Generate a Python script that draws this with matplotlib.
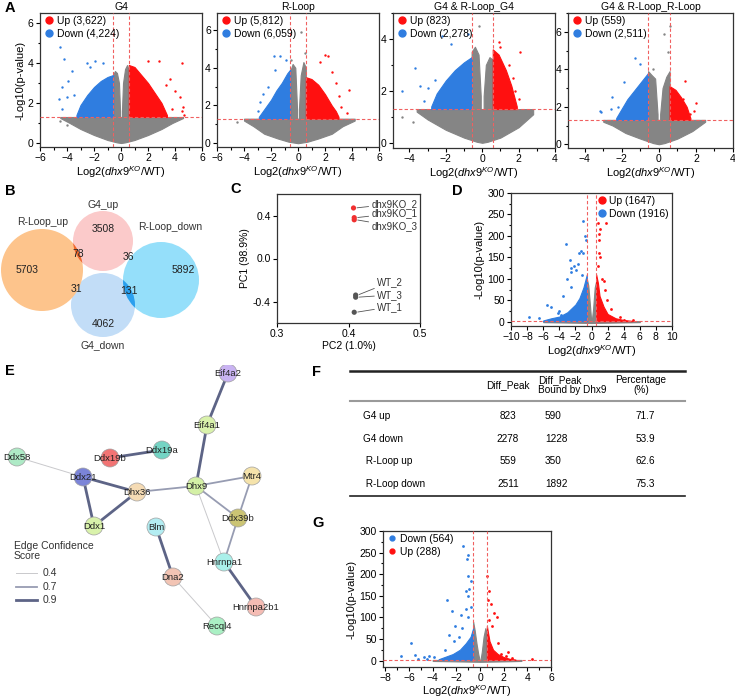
import matplotlib.pyplot as plt
from matplotlib.lines import Line2D
from matplotlib.patches import Circle
from matplotlib.ticker import AutoMinorLocator

plt.rcParams['font.family'] = ['Liberation Sans', 'DejaVu Sans']
plt.rcParams['mathtext.fontset'] = 'custom'
plt.rcParams['mathtext.rm'] = 'Liberation Sans'
plt.rcParams['mathtext.it'] = 'Liberation Sans:italic'
plt.rcParams['font.size'] = 7

RED = '#ff1010'
BLUE = '#2f7de0'
GRAY = '#858585'
LINE_RED = '#f06060'
XLAB = r'Log2($\mathit{dhx9}^{KO}$/WT)'

# ---- volcano data (envelopes of the dense clouds + loose points)
g4 = dict(
    title='G4', up='Up (3,622)', down='Down (4,224)',
    gray_x=[-4.5, -3.8, -3, -2, -1, -0.3, 0, 0.3, 1, 2, 3, 3.8, 4.6],
    gray_lo=[1.25, 1.0, 0.7, 0.4, 0.15, 0.03, 0, 0.03, 0.15, 0.4, 0.7, 1.0, 1.25],
    coll_x=[-0.58, -0.45, -0.3, -0.15, -0.07], coll_hi=[3.4, 3.6, 3.5, 3.0, 1.6],
    colr_x=[0.07, 0.15, 0.3, 0.45, 0.58], colr_hi=[1.6, 3.0, 3.7, 3.9, 3.6],
    dn_x=[-0.58, -1.0, -1.5, -2.0, -2.5, -3.0, -3.3], dn_hi=[3.4, 3.3, 3.1, 2.8, 2.4, 1.9, 1.4],
    up_x=[0.58, 1.0, 1.5, 2.0, 2.5, 3.0, 3.4], up_hi=[3.9, 3.8, 3.4, 3.0, 2.5, 2.0, 1.4],
    dn_px=[-4.5, -4.2, -3.6, -3.9, -4.6, -4.4, -4.4, -3.5, -4.0, -2.5, -2.3, -1.9, -1.3],
    dn_py=[4.8, 4.2, 3.6, 3.1, 2.2, 1.7, 2.8, 2.4, 2.3, 4.0, 3.8, 4.1, 4.0],
    up_px=[4.5, 2.8, 2.0, 3.6, 4.0, 4.4, 4.6, 4.5, 3.8, 4.7, 3.3],
    up_py=[4.0, 4.1, 4.1, 3.2, 2.6, 2.3, 1.8, 1.6, 1.7, 1.4, 2.9],
    gr_px=[-4.5, -4.0], gr_py=[1.1, 0.9],
)
rloop = dict(
    title='R-Loop', up='Up (5,812)', down='Down (6,059)',
    gray_x=[-4, -3.3, -2.5, -1.5, -0.7, 0, 0.7, 1.5, 2.5, 3.3, 4.2],
    gray_lo=[1.2, 0.9, 0.5, 0.25, 0.08, 0, 0.08, 0.25, 0.5, 0.9, 1.2],
    coll_x=[-0.58, -0.4, -0.2, -0.07], coll_hi=[3.8, 4.2, 4.0, 1.8],
    colr_x=[0.07, 0.2, 0.4, 0.58], colr_hi=[1.8, 3.6, 4.3, 4.0],
    dn_x=[-0.58, -0.8, -1.2, -1.6, -2.0, -2.5, -2.9], dn_hi=[3.9, 3.7, 3.2, 2.8, 2.3, 1.8, 1.4],
    up_x=[0.58, 1.0, 1.5, 2.0, 2.5, 2.8, 3.0], up_hi=[3.5, 3.4, 3.1, 2.6, 2.0, 1.7, 1.4],
    dn_px=[-1.8, -1.3, -0.9, -2.8, -3.0, -2.6, -2.2, -1.7],
    dn_py=[4.6, 4.6, 4.4, 2.2, 1.7, 2.6, 3.0, 3.9],
    up_px=[2.0, 2.2, 1.6, 2.5, 2.8, 3.8, 3.0, 3.6, 3.2],
    up_py=[4.7, 4.6, 4.3, 3.8, 3.2, 2.8, 2.5, 1.6, 1.9],
    gr_px=[0.2, 0.55, -0.5, -4.5], gr_py=[5.9, 4.8, 4.4, 1.1],
)
both_g4 = dict(
    title='G4 & R-Loop_G4', up='Up (823)', down='Down (2,278)',
    gray_x=[-3.6, -3, -2, -1, -0.3, 0, 0.3, 1, 2, 2.8],
    gray_lo=[1.2, 0.9, 0.5, 0.2, 0.04, 0, 0.04, 0.2, 0.6, 1.1],
    coll_x=[-0.58, -0.4, -0.2, -0.08], coll_hi=[3.5, 3.7, 3.4, 1.8],
    colr_x=[0.08, 0.2, 0.4, 0.58], colr_hi=[1.8, 3.0, 3.3, 3.2],
    dn_x=[-0.58, -1.0, -1.5, -2.0, -2.5, -2.8], dn_hi=[3.3, 3.1, 2.8, 2.4, 1.9, 1.4],
    up_x=[0.58, 0.9, 1.3, 1.6, 1.9], up_hi=[3.6, 3.4, 2.8, 2.2, 1.4],
    dn_px=[-4.4, -3.7, -3.4, -3.0, -2.2, -0.8, -1.7, -3.2, -2.6],
    dn_py=[2.0, 2.9, 2.2, 2.1, 4.1, 4.2, 3.8, 1.6, 2.4],
    up_px=[0.9, 1.0, 2.1, 1.7, 1.5, 2.0, 1.8],
    up_py=[3.9, 3.7, 3.5, 2.5, 3.0, 1.7, 2.0],
    gr_px=[-0.2, -4.4, -3.8], gr_py=[4.5, 1.0, 0.8],
)
both_rl = dict(
    title='G4 & R-Loop_R-Loop', up='Up (559)', down='Down (2,511)',
    gray_x=[-3.0, -2.5, -1.8, -1, -0.3, 0, 0.3, 1, 1.8, 2.5],
    gray_lo=[1.2, 1.0, 0.6, 0.3, 0.06, 0, 0.06, 0.3, 0.7, 1.2],
    coll_x=[-0.58, -0.4, -0.2, -0.07], coll_hi=[3.9, 3.7, 3.5, 1.6],
    colr_x=[0.07, 0.2, 0.4, 0.58], colr_hi=[1.6, 3.0, 3.6, 3.9],
    dn_x=[-0.58, -0.9, -1.3, -1.7, -2.0, -2.3], dn_hi=[3.8, 3.4, 2.9, 2.4, 1.9, 1.4],
    up_x=[0.58, 0.9, 1.2, 1.5, 1.7], up_hi=[3.1, 2.9, 2.5, 2.0, 1.4],
    dn_px=[-1.3, -1.0, -2.5, -2.2, -3.2, -3.1, -2.6, -1.9],
    dn_py=[4.6, 4.3, 2.5, 2.0, 1.8, 1.7, 1.9, 3.3],
    up_px=[1.4, 2.0, 1.9, 1.7, 1.3], up_py=[3.4, 2.2, 1.8, 1.6, 2.4],
    gr_px=[0.3, 0.6, 0.5, -0.3], gr_py=[5.9, 6.3, 4.9, 4.0],
)
rna_d = dict(
    up='Up (1647)', down='Down (1916)',
    gray_x=[-6, -3, 0, 3, 6], gray_lo=[-1, -2, -3, -2, -1],
    coll_x=[-0.58, -0.4, -0.2, -0.05], coll_hi=[100, 85, 40, 5],
    colr_x=[0.05, 0.2, 0.4, 0.58], colr_hi=[5, 30, 80, 95],
    dn_x=[-0.58, -1.0, -1.5, -2, -3, -4, -5, -6], dn_hi=[110, 80, 55, 40, 22, 12, 8, 3],
    up_x=[0.58, 0.8, 1, 1.5, 2, 3, 4, 5], up_hi=[110, 90, 60, 35, 18, 8, 4, 2],
    dn_px=[-1, -0.8, -0.7, -3.2, -1.6, -1.3, -1.1, -2.7, -2.2, -1.7, -2.5, -3, -2.6, -1.9,
           -7.8, -6.5, -5.5, -5, -4, -3.5, -2.5, -1.2, -4.2, -3.8],
    dn_py=[235, 200, 190, 180, 160, 165, 160, 145, 130, 135, 125, 100, 115, 120,
           10, 8, 40, 35, 25, 60, 80, 110, 20, 15],
    up_px=[0.8, 1.8, 1.1, 0.9, 0.9, 0.95, 1.1, 0.8, 1.5, 1.7, 1.9, 2.4, 4, 5.2, 3.5, 1.3],
    up_py=[230, 230, 215, 205, 190, 160, 150, 130, 95, 75, 50, 30, 5, 3, 10, 100],
    gr_px=[], gr_py=[],
)
rna_g = dict(
    up='Up (288)', down='Down (564)',
    gray_x=[-4, -2, 0, 2, 3.5], gray_lo=[-1, -2, -3, -2, -1],
    coll_x=[-0.58, -0.45, -0.3, -0.15, -0.05], coll_hi=[90, 70, 40, 15, 3],
    colr_x=[0.05, 0.15, 0.3, 0.45, 0.58], colr_hi=[3, 20, 55, 75, 60],
    dn_x=[-0.58, -0.8, -1.2, -1.7, -2.3, -3, -3.5], dn_hi=[75, 55, 40, 25, 15, 8, 3],
    up_x=[0.58, 0.8, 1.1, 1.5, 2, 2.5, 3], up_hi=[80, 45, 25, 15, 8, 4, 2],
    dn_px=[-1.4, -1.0, -1.1, -1.0, -0.8, -1.2, -0.9, -2.8, -1.0, -0.8, -1.2, -2.4, -1.6, -1.0,
           -2.1, -2.6, -1.8, -5.8, -6.7, -5.5, -4.7, -4.3, -3.9, -3.0, -2.2, -1.5, -5.2, -4.5],
    dn_py=[265, 245, 235, 195, 185, 160, 165, 140, 150, 125, 120, 115, 105, 100,
           80, 60, 55, 40, 10, 12, 8, 10, 8, 25, 45, 75, 4, 3],
    up_px=[0.6, 0.8, 1.2, 1.4, 0.9, 0.7, 1.0, 1.5, 2.4, 1.8, 2.7, 4.4, 2.2, 0.8],
    up_py=[195, 160, 110, 100, 130, 140, 80, 40, 20, 15, 5, 3, 10, 95],
    gr_px=[], gr_py=[],
)

# ---- other panels
venn_names = ['R-Loop_up', 'G4_up', 'R-Loop_down', 'G4_down']
venn_only = [5703, 3508, 5892, 4062]
venn_pairs = [78, 36, 31, 131]  # Rup&G4up, G4up&Rdown, Rup&G4down, G4down&Rdown

pca_names = ['dhx9KO_2', 'dhx9KO_1', 'dhx9KO_3', 'WT_2', 'WT_3', 'WT_1']
pca_pc2 = [0.407, 0.408, 0.408, 0.410, 0.410, 0.408]
pca_pc1 = [0.47, 0.38, 0.36, -0.34, -0.36, -0.50]

net_nodes = ['Eif4a2', 'Eif4a1', 'Ddx58', 'Ddx19b', 'Ddx19a', 'Ddx21', 'Dhx36', 'Dhx9',
             'Mtr4', 'Ddx39b', 'Ddx1', 'Blm', 'Hnrnpa1', 'Dna2', 'Hnrnpa2b1', 'Recql4']
net_edges = [('Eif4a2', 'Eif4a1', 0.9), ('Eif4a1', 'Dhx9', 0.9), ('Ddx58', 'Ddx21', 0.4),
             ('Ddx19b', 'Ddx19a', 0.9), ('Ddx21', 'Dhx36', 0.9), ('Ddx21', 'Ddx1', 0.9),
             ('Dhx36', 'Ddx1', 0.9), ('Dhx36', 'Dhx9', 0.7), ('Dhx9', 'Mtr4', 0.7),
             ('Dhx9', 'Ddx39b', 0.7), ('Mtr4', 'Ddx39b', 0.7), ('Dhx9', 'Hnrnpa1', 0.4),
             ('Ddx39b', 'Hnrnpa1', 0.7), ('Hnrnpa1', 'Hnrnpa2b1', 0.9), ('Blm', 'Dna2', 0.9),
             ('Dna2', 'Recql4', 0.4)]

tab_rows = ['G4 up', 'G4 down', ' R-Loop up', ' R-Loop down']
tab_diff = [823, 2278, 559, 2511]
tab_bound = [590, 1228, 350, 1892]
tab_pct = [71.7, 53.9, 62.6, 75.3]

W, H = 735, 700
fig = plt.figure(figsize=(7.35, 7.0), dpi=100)


def px_axes(l, t, r, b):
    return fig.add_axes([l / W, 1 - b / H, (r - l) / W, (b - t) / H])


def style(ax, xt, yt, xlim, ylim):
    ax.set_xlim(*xlim)
    ax.set_ylim(*ylim)
    ax.set_xticks(xt)
    ax.set_yticks(yt)
    ax.xaxis.set_minor_locator(AutoMinorLocator(2))
    ax.yaxis.set_minor_locator(AutoMinorLocator(2))
    ax.tick_params(which='both', direction='out', width=0.8, labelsize=7.5, pad=1.5)
    ax.tick_params(which='major', length=3)
    ax.tick_params(which='minor', length=1.8)
    for s in ax.spines.values():
        s.set_linewidth(0.9)
        s.set_color('#333333')


def volcano(ax, d, s=3):
    thr = 1.3
    kw = dict(lw=0.8, zorder=1)
    ax.fill_between(d['gray_x'], d['gray_lo'], thr, color=GRAY, **kw)
    ax.fill_between(d['coll_x'], thr, d['coll_hi'], color=GRAY, **kw)
    ax.fill_between(d['colr_x'], thr, d['colr_hi'], color=GRAY, **kw)
    ax.fill_between(d['dn_x'], thr, d['dn_hi'], color=BLUE, **kw)
    ax.fill_between(d['up_x'], thr, d['up_hi'], color=RED, **kw)
    ax.scatter(d['gr_px'], d['gr_py'], s=s, color=GRAY, lw=0, zorder=2)
    ax.scatter(d['dn_px'], d['dn_py'], s=s, color=BLUE, lw=0, zorder=2)
    ax.scatter(d['up_px'], d['up_py'], s=s, color=RED, lw=0, zorder=2)
    for v in (-0.58, 0.58):
        ax.axvline(v, color=LINE_RED, lw=0.8, ls=(0, (3, 2)), zorder=3)
    ax.axhline(thr, color=LINE_RED, lw=0.8, ls=(0, (3, 2)), zorder=3)


def leg(ax, labels, colors, loc, ms=5):
    hs = [Line2D([], [], marker='o', ls='', color=c, ms=ms) for c in colors]
    ax.legend(hs, labels, loc=loc, frameon=False, fontsize=7.5, handletextpad=0.1,
              borderaxespad=0.2, labelspacing=0.25, borderpad=0.1, handlelength=1.2)


# ---- panel A
a_boxes = [(40, 13, 202, 147), (217, 13, 379, 147), (393, 13, 555, 148), (568, 13, 733, 148)]
a_data = [g4, rloop, both_g4, both_rl]
a_xt = [range(-6, 7, 2), range(-6, 7, 2), range(-4, 5, 2), range(-4, 5, 2)]
a_yt = [[0, 2, 4, 6], [0, 2, 4, 6], [0, 2, 4], [0, 2, 4, 6]]
a_xl = [(-6, 6), (-6, 6), (-4.9, 4), (-4.9, 4)]
a_yl = [(-0.2, 6.5), (-0.2, 6.9), (-0.2, 5.0), (-0.2, 7.0)]
for i, d in enumerate(a_data):
    ax = px_axes(*a_boxes[i])
    volcano(ax, d)
    style(ax, list(a_xt[i]), a_yt[i], a_xl[i], a_yl[i])
    ax.set_title(d['title'], fontsize=7.5, pad=2)
    ax.set_xlabel(XLAB, fontsize=8, labelpad=1)
    leg(ax, [d['up'], d['down']], [RED, BLUE], 'upper left')
    if i == 0:
        ax.set_ylabel('-Log10(p-value)', fontsize=8, labelpad=2)

# ---- panel B (venn, axes in pixel units)
axb = px_axes(0, 175, 245, 362)
axb.set_xlim(0, 245)
axb.set_ylim(362, 175)
axb.axis('off')
c_lb = Circle((103, 305), 32, fc='#c2ddf7', ec='none')
c_or = Circle((42, 270), 41, fc='#fdc48c', ec='none')
c_pk = Circle((103, 241), 30, fc='#fbcaca', ec='none')
c_cy = Circle((161, 280), 38, fc='#95dffa', ec='none')
for c in (c_lb, c_or, c_pk, c_cy):
    axb.add_patch(c)
lens1 = Circle((103, 241), 30, fc='#f0692a', ec='none')
axb.add_patch(lens1)
lens1.set_clip_path(c_or)
lens2 = Circle((103, 305), 32, fc='#2a9fee', ec='none')
axb.add_patch(lens2)
lens2.set_clip_path(c_cy)
for name, (x, y) in zip(venn_names, [(43, 222), (103, 205), (170, 227), (103, 345)]):
    axb.text(x, y, name, ha='center', va='center', fontsize=7.5, color='#333333')
for n, (x, y) in zip(venn_only, [(27, 270), (103, 229), (183, 270), (103, 324)]):
    axb.text(x, y, str(n), ha='center', va='center', fontsize=7.5, color='#222222')
for n, (x, y) in zip(venn_pairs, [(78, 254), (128, 257), (76, 289), (129, 291)]):
    axb.text(x, y, str(n), ha='center', va='center', fontsize=7.5, color='#222222')

# ---- panel C (PCA)
axc = px_axes(277, 194, 420, 323)
cols = ['#f03030'] * 3 + ['#555555'] * 3
axc.scatter(pca_pc2, pca_pc1, s=14, c=cols, lw=0, zorder=3)
lab_pos = [(0.432, 0.51), (0.432, 0.42), (0.432, 0.30), (0.440, -0.22), (0.440, -0.34), (0.440, -0.45)]
for name, x, y, p in zip(pca_names, pca_pc2, pca_pc1, lab_pos):
    axc.annotate(name, (x + 0.003, y), xytext=p, ha='left', va='center', fontsize=7,
                 color='#333333',
                 arrowprops=dict(arrowstyle='-', lw=0.6, color='#555555', shrinkA=0, shrinkB=1))
style(axc, [0.3, 0.4, 0.5], [-0.4, 0.0, 0.4], (0.3, 0.5), (-0.6, 0.6))
axc.xaxis.set_minor_locator(plt.NullLocator())
axc.yaxis.set_minor_locator(plt.NullLocator())
axc.set_yticklabels(['-0.4', '0.0', '0.4'])
axc.set_xlabel('PC2 (1.0%)', fontsize=7.5, labelpad=1)
axc.set_ylabel('PC1 (98.9%)', fontsize=7.5, labelpad=2)

# ---- panel D
axd = px_axes(511, 193, 672, 326)
volcano(axd, rna_d, s=4)
style(axd, list(range(-10, 11, 2)), list(range(0, 301, 50)), (-10, 10), (-10, 300))
axd.xaxis.set_minor_locator(plt.NullLocator())
axd.set_xlabel(XLAB, fontsize=8, labelpad=1)
axd.set_ylabel('-Log10(p-value)', fontsize=8, labelpad=2)
leg(axd, [rna_d['up'], rna_d['down']], [RED, BLUE], 'upper right')

# ---- panel E (network, axes in pixel units)
axe = px_axes(0, 365, 330, 700)
axe.set_xlim(0, 330)
axe.set_ylim(700, 365)
axe.axis('off')
node_xy = [(228, 373), (207, 425), (17, 457), (110, 458), (162, 450), (83, 477), (137, 492),
           (196, 486), (252, 476), (238, 518), (94, 526), (156, 527), (224, 562), (173, 577),
           (256, 607), (217, 626)]
node_col = ['#c9b3f2', '#d9f2ab', '#aeeac6', '#f27474', '#74d4c4', '#7b84d8', '#f5dbb4',
            '#d4f0a6', '#f5e3ab', '#cbc474', '#d9f2ab', '#b3edf2', '#aaf0ea', '#f2c4b4',
            '#f5bcb4', '#aaf0c4']
pos = dict(zip(net_nodes, node_xy))
e_style = {0.4: ('#c9c9cc', 0.7), 0.7: ('#979cb2', 1.3), 0.9: ('#5d6486', 2.0)}
for a, b, sc in net_edges:
    c, w = e_style[sc]
    axe.plot([pos[a][0], pos[b][0]], [pos[a][1], pos[b][1]], color=c, lw=w, zorder=1,
             solid_capstyle='butt')
for name, (x, y), c in zip(net_nodes, node_xy, node_col):
    axe.add_patch(Circle((x, y), 9, fc=c, ec='#a0a0a0', lw=0.5, zorder=2))
    axe.text(x, y, name, ha='center', va='center', fontsize=6.8, color='#222222', zorder=3)
axe.text(14, 551, 'Edge Confidence\nScore', ha='left', va='center', fontsize=7.5,
         color='#333333', linespacing=1.0)
for k, yy in zip([0.4, 0.7, 0.9], [573, 587, 600]):
    c, w = e_style[k]
    axe.plot([16, 37], [yy, yy], color=c, lw=w)
    axe.text(43, yy, str(k), ha='left', va='center', fontsize=7.5, color='#333333')

# ---- panel F (table, axes in pixel units)
axf = px_axes(330, 365, 735, 520)
axf.set_xlim(330, 735)
axf.set_ylim(520, 365)
axf.axis('off')
axf.plot([350, 685], [371, 371], color='#222222', lw=1.8)
axf.plot([350, 685], [401, 401], color='#9a9a9a', lw=1.5)
axf.plot([350, 685], [496, 496], color='#222222', lw=1.2)
axf.text(508, 385, 'Diff_Peak', ha='center', va='center', fontsize=7.2)
axf.text(538, 385, 'Diff_Peak\nBound by Dhx9', ha='left', va='center', fontsize=7.2,
         linespacing=1.0)
axf.text(641, 385, 'Percentage\n(%)', ha='center', va='center', fontsize=7.2, linespacing=1.0)
for i, r in enumerate(tab_rows):
    y = 416 + i * 22.7
    axf.text(363, y, r, ha='left', va='center', fontsize=7.2)
    axf.text(508, y, str(tab_diff[i]), ha='center', va='center', fontsize=7.2)
    axf.text(545, y, str(tab_bound[i]), ha='left', va='center', fontsize=7.2)
    axf.text(645, y, f'{tab_pct[i]:.1f}', ha='center', va='center', fontsize=7.2)

# ---- panel G
axg = px_axes(383, 531, 551, 667)
volcano(axg, rna_g, s=4)
style(axg, list(range(-8, 7, 2)), list(range(0, 301, 50)), (-8.2, 6), (-15, 300))
axg.set_xlabel(XLAB, fontsize=8, labelpad=0)
axg.set_ylabel('-Log10(p-value)', fontsize=8, labelpad=2)
leg(axg, [rna_g['down'], rna_g['up']], [BLUE, RED], 'upper left', ms=3.5)

# ---- panel letters
for t, x, y in [('A', 5, 8), ('B', 5, 191), ('C', 230, 189), ('D', 452, 191),
                ('E', 5, 371), ('F', 312, 372), ('G', 312, 523)]:
    fig.text(x / W, 1 - y / H, t, fontsize=10.5, fontweight='bold', ha='left', va='center')

fig.savefig('out.png', dpi=100)
